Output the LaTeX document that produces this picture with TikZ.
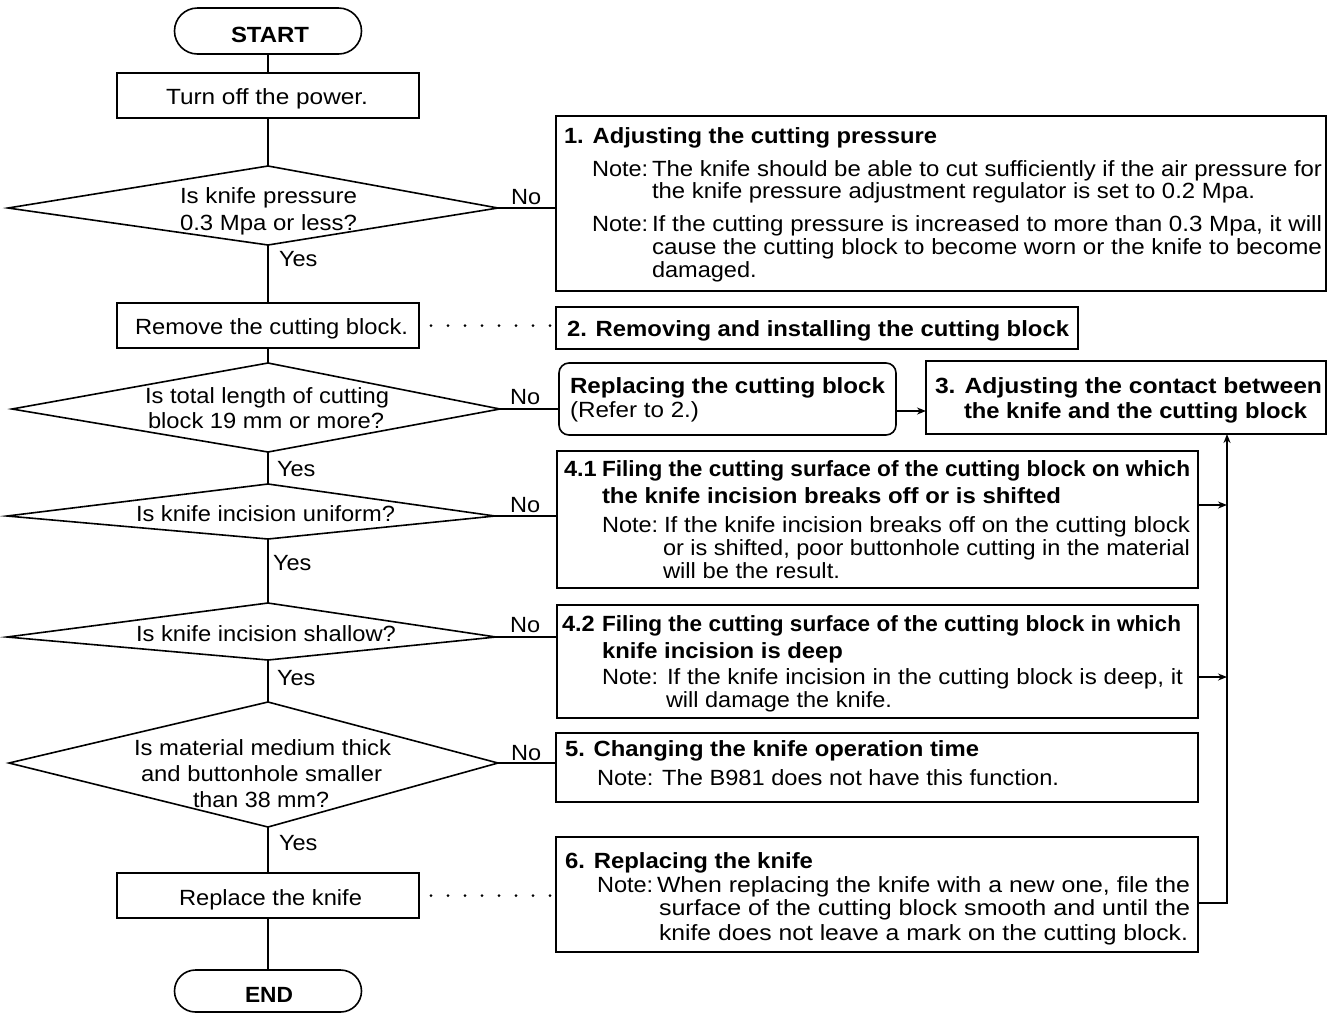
\documentclass[tikz,border=0pt]{standalone}
\usepackage{fontspec}
\setmainfont[FakeStretch=1.07]{Liberation Sans}
\usepackage{graphicx}
\usetikzlibrary{arrows.meta,shapes.misc}
\newcommand\fitw[2]{\resizebox{#1}{\height}{#2}}
\begin{document}
\begin{tikzpicture}[x=1pt,y=-1pt,
  every node/.style={inner sep=0pt, outer sep=0pt, font=\fontsize{22}{26}\selectfont},
  ln/.style={line width=1.6pt},
  bx/.style={draw, line width=1.6pt, rectangle, anchor=north west, inner sep=0pt},
  pill/.style={draw, line width=1.6pt, rounded rectangle, minimum width=187pt},
  tx/.style={anchor=base west},
  bf/.style={font=\fontsize{22}{26}\selectfont\bfseries},
  dotl/.style={line width=3pt, line cap=round, dash pattern=on 0pt off 17pt},
  arr/.style={-{Stealth[length=9pt,width=7pt]}}
]
\useasboundingbox (0,0) rectangle (1328,1013);
\fill[white] (0,0) rectangle (1328,1013);

% ---------- flowchart column ----------
\node[pill, minimum height=46pt] (start) at (268,31) {};
\node[bx, minimum width=302pt, minimum height=45pt] (turn) at (117,73) {};
\node[bx, minimum width=302pt, minimum height=45pt] (remove) at (117,303) {};
\node[bx, minimum width=302pt, minimum height=45pt] (replace) at (117,873) {};
\node[pill, minimum height=42pt] (end) at (268,991) {};

% diamonds
\coordinate (d1t) at (268,166); \coordinate (d1l) at (8,208);  \coordinate (d1r) at (498,208); \coordinate (d1b) at (268,245);
\coordinate (d2t) at (268,363); \coordinate (d2l) at (12,409); \coordinate (d2r) at (500,409); \coordinate (d2b) at (268,452);
\coordinate (d3t) at (268,484); \coordinate (d3l) at (7,516);  \coordinate (d3r) at (495,516); \coordinate (d3b) at (268,539);
\coordinate (d4t) at (268,603); \coordinate (d4l) at (7,637);  \coordinate (d4r) at (496,637); \coordinate (d4b) at (268,660);
\coordinate (d5t) at (268,702); \coordinate (d5l) at (9,763);  \coordinate (d5r) at (498,763); \coordinate (d5b) at (268,827);
\foreach \d in {d1,d2,d3,d4,d5}{
  \draw[ln, line join=miter] (\d t) -- (\d r) -- (\d b) -- (\d l) -- cycle;
}

% flowchart texts
\node[tx,bf] (tstart) at (231,42) {\fitw{78pt}{START}};
\node[tx] (tturn) at (166,104) {\fitw{202pt}{Turn off the power.}};
\node[tx] (td1a) at (180,203) {\fitw{177pt}{Is knife pressure}};
\node[tx] (td1b) at (180,230) {\fitw{177pt}{0.3 Mpa or less?}};
\node[tx] (tremove) at (135,334) {\fitw{273pt}{Remove the cutting block.}};
\node[tx] (td2a) at (145,403) {\fitw{244pt}{Is total length of cutting}};
\node[tx] (td2b) at (148,428) {\fitw{236pt}{block 19 mm or more?}};
\node[tx] (td3) at (136,521) {\fitw{259pt}{Is knife incision uniform?}};
\node[tx] (td4) at (136,641) {\fitw{260pt}{Is knife incision shallow?}};
\node[tx] (td5a) at (134,755) {\fitw{257pt}{Is material medium thick}};
\node[tx] (td5b) at (141,781) {\fitw{241pt}{and buttonhole smaller}};
\node[tx] (td5c) at (193,807) {\fitw{136pt}{than 38 mm?}};
\node[tx] (treplace) at (179,905) {\fitw{183pt}{Replace the knife}};
\node[tx,bf] (tend) at (245,1002) {\fitw{48pt}{END}};

\node[tx] (y1) at (279,266) {Yes};
\node[tx] (y2) at (277,476) {Yes};
\node[tx] (y3) at (273,570) {Yes};
\node[tx] (y4) at (277,685) {Yes};
\node[tx] (y5) at (279,850) {Yes};
\node[tx] (n1) at (511,204) {No};
\node[tx] (n2) at (510,404) {No};
\node[tx] (n3) at (510,512) {No};
\node[tx] (n4) at (510,632) {No};
\node[tx] (n5) at (511,760) {No};

% ---------- right column boxes ----------
\node[bx, minimum width=770pt, minimum height=175pt] (b1) at (556,116) {};
\node[bx, minimum width=522pt, minimum height=42pt] (b2) at (556,307) {};
\node[bx, rounded corners=10pt, minimum width=337pt, minimum height=72pt] (rep) at (559,363) {};
\node[bx, minimum width=400pt, minimum height=73pt] (b3) at (926,361) {};
\node[bx, minimum width=641pt, minimum height=137pt] (b41) at (557,451) {};
\node[bx, minimum width=641pt, minimum height=113pt] (b42) at (557,605) {};
\node[bx, minimum width=642pt, minimum height=69pt] (b5) at (556,733) {};
\node[bx, minimum width=642pt, minimum height=115pt] (b6) at (556,837) {};

% box 1
\node[tx,bf] (t1a) at (564,143) {\fitw{373pt}{1. Adjusting the cutting pressure}};
\node[tx] (t1b) at (592,176) {Note:};
\node[tx] (t1c) at (652,176) {\fitw{670pt}{The knife should be able to cut sufficiently if the air pressure for}};
\node[tx] (t1d) at (652,198) {\fitw{603pt}{the knife pressure adjustment regulator is set to 0.2 Mpa.}};
\node[tx] (t1e) at (592,231) {Note:};
\node[tx] (t1f) at (652,231) {\fitw{670pt}{If the cutting pressure is increased to more than 0.3 Mpa, it will}};
\node[tx] (t1g) at (652,254) {\fitw{670pt}{cause the cutting block to become worn or the knife to become}};
\node[tx] (t1h) at (652,277) {damaged.};
% box 2
\node[tx,bf] (t2) at (567,336) {\fitw{502pt}{2. Removing and installing the cutting block}};
% replacing box
\node[tx,bf] (tra) at (570,393) {\fitw{315pt}{Replacing the cutting block}};
\node[tx] (trb) at (570,417) {\fitw{129pt}{(Refer to 2.)}};
% box 3
\node[tx,bf] (t3a) at (935,393) {\fitw{387pt}{3. Adjusting the contact between}};
\node[tx,bf] (t3b) at (964,418) {\fitw{343pt}{the knife and the cutting block}};
% box 4.1
\node[tx,bf] (t41a) at (564,476) {4.1};
\node[tx,bf] (t41b) at (602,476) {\fitw{588pt}{Filing the cutting surface of the cutting block on which}};
\node[tx,bf] (t41c) at (602,503) {\fitw{459pt}{the knife incision breaks off or is shifted}};
\node[tx] (t41d) at (602,532) {Note:};
\node[tx] (t41e) at (664,532) {\fitw{526pt}{If the knife incision breaks off on the cutting block}};
\node[tx] (t41f) at (663,555) {\fitw{527pt}{or is shifted, poor buttonhole cutting in the material}};
\node[tx] (t41g) at (663,578) {\fitw{177pt}{will be the result.}};
% box 4.2
\node[tx,bf] (t42a) at (562,631) {4.2};
\node[tx,bf] (t42b) at (602,631) {\fitw{579pt}{Filing the cutting surface of the cutting block in which}};
\node[tx,bf] (t42c) at (602,658) {\fitw{241pt}{knife incision is deep}};
\node[tx] (t42d) at (602,684) {Note:};
\node[tx] (t42e) at (667,684) {\fitw{516pt}{If the knife incision in the cutting block is deep, it}};
\node[tx] (t42f) at (666,707) {\fitw{226pt}{will damage the knife.}};
% box 5
\node[tx,bf] (t5a) at (565,756) {\fitw{414pt}{5. Changing the knife operation time}};
\node[tx] (t5b) at (597,785) {\fitw{462pt}{Note: The B981 does not have this function.}};
% box 6
\node[tx,bf] (t6a) at (565,868) {\fitw{248pt}{6. Replacing the knife}};
\node[tx] (t6b) at (597,892) {Note:};
\node[tx] (t6c) at (657,892) {\fitw{533pt}{When replacing the knife with a new one, file the}};
\node[tx] (t6d) at (659,915) {\fitw{531pt}{surface of the cutting block smooth and until the}};
\node[tx] (t6e) at (659,940) {\fitw{529pt}{knife does not leave a mark on the cutting block.}};

% ---------- connectors ----------
\draw[ln] (start.south) -- (start.south |- turn.north);
\draw[ln] (turn.south -| d1t) -- (d1t);
\draw[ln] (d1b) -- (d1b |- remove.north);
\draw[ln] (d1b |- remove.south) -- (d2t);
\draw[ln] (d2b) -- (d3t);
\draw[ln] (d3b) -- (d4t);
\draw[ln] (d4b) -- (d5t);
\draw[ln] (d5b) -- (d5b |- replace.north);
\draw[ln] (d5b |- replace.south) -- (d5b |- end.north);

\draw[ln] (d1r) -- (d1r -| b1.west);
\draw[ln] (d2r) -- (d2r -| rep.west);
\draw[ln] (d3r) -- (d3r -| b41.west);
\draw[ln] (d4r) -- (d4r -| b42.west);
\draw[ln] (d5r) -- (d5r -| b5.west);

\draw[dotl] ([xshift=12pt]remove.east) -- ([xshift=-2pt]remove.east -| b2.west);
\draw[dotl] ([xshift=12pt]replace.east) -- ([xshift=-2pt]replace.east -| b6.west);

\coordinate (a3) at (900,411);
\draw[ln,arr] (rep.east |- a3) -- (b3.west |- a3);

\coordinate (j41) at (1227,505);
\coordinate (j42) at (1227,677);
\coordinate (j6) at (1227,903);
\draw[ln,arr] (b41.east |- j41) -- (j41);
\draw[ln,arr] (b42.east |- j42) -- (j42);
\draw[ln,arr] (b6.east |- j6) -- (j6) -- (j6 |- b3.south);
\end{tikzpicture}
\end{document}
